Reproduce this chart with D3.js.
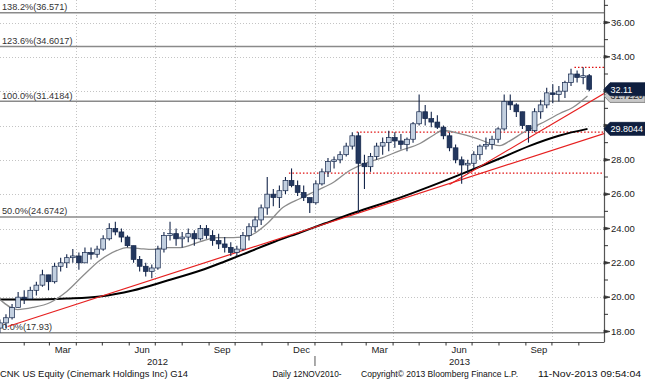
<!DOCTYPE html>
<html><head><meta charset="utf-8">
<script src="https://cdn.jsdelivr.net/npm/d3@7"></script>
<style>
html,body{margin:0;padding:0;background:#fff;}
svg{display:block;font-family:"Liberation Sans",Arial,sans-serif;}
</style></head>
<body><svg id="c" width="645" height="380"></svg>
<script>
// ---------- DATA ----------
// weekly OHLC, week k = k-th Monday from 2012-01-02 to 2013-11-11
const weekOpen = [18.2,18.5,18.8,19.4,20.0,19.9,20.4,20.7,21.3,20.9,21.8,22.0,22.3,22.4,22.0,22.6,22.5,22.8,23.4,24.0,
  23.8,23.5,23.0,22.2,21.8,21.5,21.7,22.8,23.6,23.7,23.4,23.5,23.7,23.4,24.0,23.6,23.3,23.1,22.9,22.6,
  22.8,23.6,24.1,24.5,25.2,26.0,25.8,26.2,26.8,26.5,26.1,25.8,25.5,26.6,27.3,27.9,28.0,28.3,28.8,29.4,
  27.8,27.6,28.2,28.8,29.0,29.3,29.1,28.9,29.2,30.1,30.8,30.4,30.2,29.9,29.4,28.7,28.0,27.7,27.8,28.3,
  28.8,28.9,29.2,29.8,31.4,31.2,30.8,30.0,29.7,30.8,31.2,31.9,31.8,32.0,32.5,33.0,32.8,32.9];
const weekClose = [18.5,18.8,19.4,20.0,19.9,20.4,20.7,21.3,20.9,21.8,22.0,22.3,22.4,22.0,22.6,22.5,22.8,23.4,24.0,23.8,
  23.5,23.0,22.2,21.8,21.5,21.7,22.8,23.6,23.7,23.4,23.5,23.7,23.4,24.0,23.6,23.3,23.1,22.9,22.6,22.8,
  23.6,24.1,24.5,25.2,26.0,25.8,26.2,26.8,26.5,26.1,25.8,25.5,26.6,27.3,27.9,28.0,28.3,28.8,29.4,27.8,
  27.6,28.2,28.8,29.0,29.3,29.1,28.9,29.2,30.1,30.8,30.4,30.2,29.9,29.4,28.7,28.0,27.7,27.8,28.3,28.8,
  28.9,29.2,29.8,31.4,31.2,30.8,30.0,29.7,30.8,31.2,31.9,31.8,32.0,32.5,33.0,32.8,32.9,32.11];
const weekHigh = [18.7,19.0,19.6,20.3,20.4,20.6,20.9,21.6,21.3,22.0,22.3,22.5,22.8,22.6,22.9,22.9,23.0,23.6,24.3,24.4,
  24.0,23.6,23.0,22.4,22.0,21.9,23.0,23.8,24.4,24.0,23.8,24.0,23.9,24.2,24.2,23.9,23.7,23.5,23.2,23.0,
  23.8,24.3,24.7,25.4,27.0,26.3,26.5,27.0,27.5,26.8,26.5,25.8,26.8,27.5,28.1,28.2,28.5,29.0,29.6,29.6,
  28.3,28.4,29.0,29.3,29.7,29.6,29.5,29.3,30.2,31.8,31.2,30.8,30.6,30.0,29.6,28.9,28.2,28.0,28.5,28.9,
  29.3,29.4,29.9,31.8,31.8,31.3,30.8,30.0,31.0,31.5,32.2,32.4,32.3,32.6,33.3,33.2,33.4,33.0];
const weekLow = [17.93,18.2,18.7,19.4,19.6,19.9,20.1,20.6,20.4,20.8,21.5,21.7,22.0,21.6,22.0,22.2,22.3,22.7,23.3,23.6,
  23.2,22.9,22.0,21.5,21.2,21.1,21.6,22.6,23.3,23.0,22.9,23.2,23.0,23.3,23.4,23.0,22.8,22.6,22.4,22.4,
  22.7,23.3,23.8,24.2,24.8,25.3,25.2,26.0,26.4,25.9,25.6,24.9,25.4,26.5,27.0,27.5,27.8,28.2,28.6,24.9,
  26.3,27.3,28.0,28.3,28.5,28.7,28.6,28.5,29.0,30.0,30.0,29.9,29.8,29.2,28.5,27.8,26.6,27.2,27.5,28.0,
  28.6,28.6,29.0,29.7,30.9,30.5,29.8,29.0,29.6,30.4,31.0,31.3,31.4,31.6,32.3,32.5,32.4,32.0];

// 50-day moving average (grey)
const ma50Dates = ["2012-01-04","2012-01-24","2012-02-11","2012-03-02","2012-03-21","2012-04-09","2012-04-28","2012-05-18",
  "2012-05-29","2012-06-13","2012-06-28","2012-07-15","2012-07-30","2012-08-22","2012-09-10","2012-09-29","2012-10-18",
  "2012-11-07","2012-11-25","2012-12-15","2013-01-03","2013-01-22","2013-02-10","2013-03-02","2013-03-20","2013-04-09",
  "2013-05-02","2013-05-17","2013-05-28","2013-06-17","2013-07-07","2013-07-22","2013-08-02","2013-08-14","2013-08-29",
  "2013-09-09","2013-09-25","2013-10-10","2013-10-25","2013-11-11"];
const ma50Values = [19.86,19.28,19.40,19.69,20.33,21.26,22.14,22.72,22.89,22.83,22.78,22.89,22.89,23.24,23.47,23.47,23.59,
  24.29,25.22,25.75,26.21,26.68,27.38,27.84,28.13,28.54,28.95,29.42,29.71,29.53,29.24,28.95,28.83,29.12,29.59,
  29.88,30.29,30.70,31.05,31.722];
// 200-day moving average (black)
const ma200Dates = ["2012-01-04","2012-02-11","2012-03-21","2012-04-28","2012-06-05","2012-07-15","2012-08-22","2012-09-19",
  "2012-10-18","2012-11-16","2012-12-15","2013-01-12","2013-02-16","2013-04-09","2013-05-13","2013-06-20","2013-08-02",
  "2013-09-06","2013-10-10","2013-11-11"];
const ma200Values = [19.86,19.86,19.92,20.04,20.39,20.97,21.55,22.08,22.66,23.24,23.77,24.29,24.93,25.80,26.44,27.20,28.08,
  28.83,29.42,29.8044];

// Fibonacci retracement levels
const fibLevels = [36.571, 34.6017, 31.4184, 24.6742, 17.93];
const fibLabels = ["138.2%(36.571)", "123.6%(34.6017)", "100.0%(31.4184)", "50.0%(24.6742)", "0.0%(17.93)"];

// red dotted horizontal levels
const hLevelValues = [33.39, 29.61, 27.22];
const hLevelStarts = ["2013-10-27", "2013-02-18", "2012-12-02"];

// red trend lines
const trendStartDates = ["2012-01-13", "2013-06-05"];
const trendStartValues = [18.29, 26.56];
const trendEndDates = ["2013-11-30", "2013-11-30"];
const trendEndValues = [29.53, 31.86];

// axis ticks (30.00 and 32.00 are hidden behind the value tags in the reference)
const yTickValues = [18, 20, 22, 24, 26, 28, 30, 32, 34, 36];
const yTickLabels = ["18.00","20.00","22.00","24.00","26.00","28.00","","","34.00","36.00"];
const yMinorValues = [19, 21, 23, 25, 27, 29, 31, 33, 35, 37];
const monthLabelDates = ["2012-03-01","2012-06-01","2012-09-01","2012-12-01","2013-03-01","2013-06-01","2013-09-01"];
const monthLabels = ["Mar","Jun","Sep","Dec","Mar","Jun","Sep"];
const yearLabels = ["2012", "2013"];

// value tags
const lastPrice = 32.11;
const lastMa50 = 31.7220;
const lastMa200 = 29.8044;

const footerTexts = ["CNK US Equity (Cinemark Holdings Inc) G14", "Daily 12NOV2010-",
  "Copyright\u00A9 2013 Bloomberg Finance L.P.", "11-Nov-2013 09:54:04"];

// ---------- DRAW ----------
const parse = d3.timeParse("%Y-%m-%d");
const svg = d3.select("#c");
const plotR = 604, plotB = 342;

const x = d3.scaleTime().domain([parse("2012-01-01"), parse("2013-11-30")]).range([-2.7, plotR]);
const y = d3.scaleLinear().domain([18, 36]).range([331.5, 22.5]);

svg.append("defs").append("clipPath").attr("id","clip")
  .append("rect").attr("x",0).attr("y",0).attr("width",plotR).attr("height",plotB);

const plot = svg.append("g").attr("clip-path","url(#clip)");

// grid
const grid = plot.append("g").attr("stroke","#c4c4c4").attr("stroke-width",1).attr("stroke-dasharray","1,2");
grid.selectAll(".gh").data(d3.range(18, 40, 2)).join("line")
  .attr("x1",0).attr("x2",plotR).attr("y1",d=>Math.round(y(d))+0.5).attr("y2",d=>Math.round(y(d))+0.5);
const quarterStarts = d3.timeMonth.every(3).range(parse("2012-02-01"), parse("2013-11-30"));
grid.selectAll(".gv").data(quarterStarts).join("line")
  .attr("x1",d=>Math.round(x(d))+0.5).attr("x2",d=>Math.round(x(d))+0.5).attr("y1",0).attr("y2",plotB);

// fib lines
plot.selectAll(".fib").data(fibLevels).join("line")
  .attr("x1",0).attr("x2",plotR).attr("y1",d=>y(d)).attr("y2",d=>y(d))
  .attr("stroke","#8a8a8a").attr("stroke-width",1.5);
plot.selectAll(".fibt").data(fibLevels).join("text")
  .attr("x",2).attr("y",d=>y(d)-2.5).attr("font-size",9.2).attr("fill","#333")
  .text((d,i)=>fibLabels[i]);

// red dotted levels
plot.selectAll(".hl").data(hLevelValues).join("line")
  .attr("x1",(d,i)=>x(parse(hLevelStarts[i]))).attr("x2",plotR)
  .attr("y1",d=>y(d)).attr("y2",d=>y(d))
  .attr("stroke","#e01010").attr("stroke-width",1.2).attr("stroke-dasharray","1.5,2");

// MA lines
const line = d3.line().x(d=>x(d[0])).y(d=>y(d[1])).curve(d3.curveMonotoneX);
plot.append("path").datum(ma200Dates.map((d,i)=>[parse(d), ma200Values[i]]))
  .attr("d", line).attr("fill","none").attr("stroke","#000").attr("stroke-width",2);
plot.append("path").datum(ma50Dates.map((d,i)=>[parse(d), ma50Values[i]]))
  .attr("d", line).attr("fill","none").attr("stroke","#8c8c8c").attr("stroke-width",1.3);

// trend lines
plot.selectAll(".tr").data(trendStartDates).join("line")
  .attr("x1",(d,i)=>x(parse(d))).attr("y1",(d,i)=>y(trendStartValues[i]))
  .attr("x2",(d,i)=>x(parse(trendEndDates[i]))).attr("y2",(d,i)=>y(trendEndValues[i]))
  .attr("stroke","#e62020").attr("stroke-width",1.2);

// candles
const weeks = d3.timeMonday.range(parse("2012-01-02"), parse("2013-11-12"));
const candles = weeks.map((w,i)=>({d:d3.timeDay.offset(w,2), o:weekOpen[i], c:weekClose[i], h:weekHigh[i], l:weekLow[i]}));
const cg = plot.append("g");
cg.selectAll(".wick").data(candles).join("line")
  .attr("x1",d=>x(d.d)).attr("x2",d=>x(d.d)).attr("y1",d=>y(d.h)).attr("y2",d=>y(d.l))
  .attr("stroke","#13254a").attr("stroke-width",1.1);
cg.selectAll(".body").data(candles).join("rect")
  .attr("x",d=>x(d.d)-2.4).attr("width",4.8)
  .attr("y",d=>y(Math.max(d.o,d.c))).attr("height",d=>Math.max(1.5, Math.abs(y(d.o)-y(d.c))))
  .attr("fill",d=>d.c>=d.o ? "#c3d0e0" : "#23375e").attr("stroke","#13254a").attr("stroke-width",0.7);

// right axis
const ax = svg.append("g");
ax.append("line").attr("x1",plotR+0.5).attr("x2",plotR+0.5).attr("y1",0).attr("y2",plotB).attr("stroke","#555").attr("stroke-width",1.2);
ax.selectAll(".mj").data(yTickValues).join("path")
  .attr("d",d=>`M${plotR},${y(d)-1.5}L${plotR+6},${y(d)}L${plotR},${y(d)+1.5}Z`)
  .attr("fill","#333").attr("stroke","#333").attr("stroke-width",0.8);
ax.selectAll(".mn").data(yMinorValues).join("line")
  .attr("x1",plotR).attr("x2",plotR+4).attr("y1",d=>y(d)).attr("y2",d=>y(d)).attr("stroke","#333");
ax.selectAll(".yl").data(yTickValues.filter((d,i)=>yTickLabels[i])).join("text")
  .attr("x",plotR+7).attr("y",d=>y(d)).attr("dy","0.35em").attr("font-size",9.5).attr("fill","#222")
  .text(d=>yTickLabels[yTickValues.indexOf(d)]);

// bottom axis
ax.append("line").attr("x1",0).attr("x2",plotR+0.5).attr("y1",plotB+0.5).attr("y2",plotB+0.5).attr("stroke","#555").attr("stroke-width",1.2);
const monthStarts = d3.timeMonth.range(parse("2012-01-01"), parse("2013-11-30"));
ax.selectAll(".mt").data(monthStarts).join("line")
  .attr("x1",d=>x(d)).attr("x2",d=>x(d)).attr("y1",plotB).attr("y2",plotB+3.5).attr("stroke","#333");
ax.selectAll(".ml").data(monthLabelDates).join("text")
  .attr("x",d=>{const m=parse(d); return (x(m)+x(d3.timeMonth.offset(m,1)))/2;})
  .attr("y",353).attr("text-anchor","middle").attr("font-size",9.5).attr("fill","#222")
  .text((d,i)=>monthLabels[i]);
const yearStart = parse("2013-01-01");
ax.append("line").attr("x1",x(yearStart)).attr("x2",x(yearStart)).attr("y1",356).attr("y2",366).attr("stroke","#555");
const yearCenters = [(0 + x(yearStart))/2, (x(yearStart)+plotR)/2];
ax.selectAll(".yr").data(yearLabels).join("text")
  .attr("x",(d,i)=>yearCenters[i]).attr("y",364.5).attr("text-anchor","middle").attr("font-size",9.5).attr("fill","#222")
  .text(d=>d);

// value tags
function tag(v, fill, stroke, txtColor, label){
  const yy = y(v);
  svg.append("path").attr("d",`M${plotR},${yy}L${plotR+6},${yy-6.5}L645,${yy-6.5}L645,${yy+6.5}L${plotR+6},${yy+6.5}Z`)
    .attr("fill",fill).attr("stroke",stroke).attr("stroke-width",0.8);
  svg.append("text").attr("x",plotR+6.5).attr("y",yy).attr("dy","0.36em").attr("font-size",9)
    .attr("fill",txtColor).text(label);
}
tag(lastMa50, "#c8c8c8", "#777", "#222", lastMa50.toFixed(4));
tag(lastPrice, "#0f1f3f", "#0f1f3f", "#fff", lastPrice.toFixed(2));
tag(lastMa200, "#0f1f3f", "#0f1f3f", "#fff", lastMa200.toFixed(4));

// footer (widths matched to the reference)
const footerX = [0, 272.5, 361, 538];
const footerW = [188, 69, 157, 103];
svg.append("g").attr("font-size",9.5).attr("fill","#111")
  .selectAll("text").data(footerTexts).join("text")
  .attr("x",(d,i)=>footerX[i]).attr("y",376.5)
  .attr("textLength",(d,i)=>footerW[i]).attr("lengthAdjust","spacingAndGlyphs")
  .text(d=>d);
</script>
</body></html>
